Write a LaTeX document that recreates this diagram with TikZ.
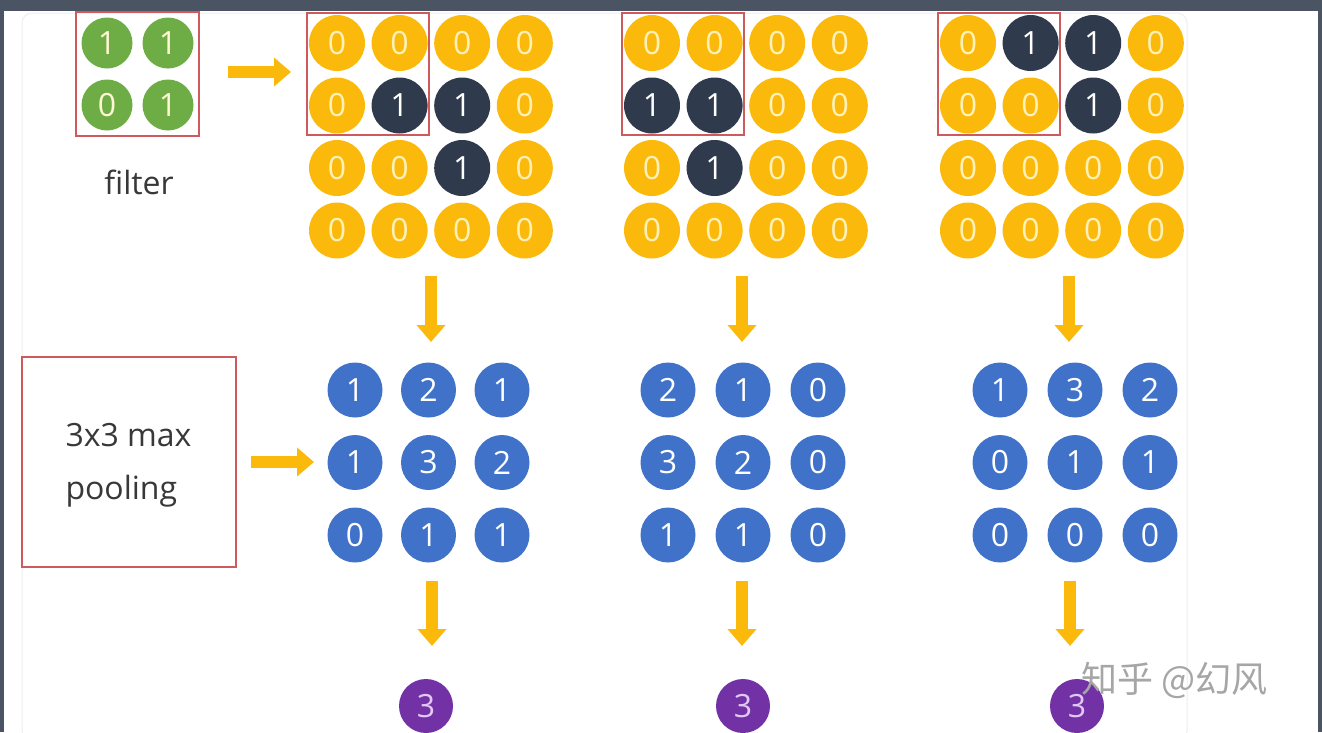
\documentclass[tikz,border=0pt]{standalone}
\usepackage{fontspec}
\setmainfont{Open Sans}
\newfontfamily\cjk{Noto Sans CJK SC}
\usetikzlibrary{arrows.meta,fit}
\definecolor{cyel}{HTML}{FBBA0B}
\definecolor{cyeltxt}{HTML}{FFF1B8}
\definecolor{cdark}{HTML}{2F3A4D}
\definecolor{cblue}{HTML}{3F72C8}
\definecolor{cgreen}{HTML}{6EAD45}
\definecolor{cpurple}{HTML}{7232A6}
\definecolor{cptxt}{HTML}{E2C8F5}
\definecolor{cred}{HTML}{CF5A5E}
\definecolor{cframe}{HTML}{4A5463}
\definecolor{cpanel}{HTML}{EEEEEE}
\tikzset{
  dot/.style={circle,inner sep=0pt,minimum size=#1,font=\fontsize{32}{32}\selectfont},
  cell0/.style={dot=56pt,fill=cyel,text=cyeltxt},
  cell1/.style={dot=56pt,fill=cdark,text=white},
  bdot/.style={dot=55pt,fill=cblue,text=white},
  gdot/.style={dot=51pt,fill=cgreen,text=cyeltxt!60!white},
  pdot/.style={dot=54pt,fill=cpurple,text=cptxt},
  redbox/.style={draw=cred,line width=1.8pt,inner sep=#1},
  yarrow/.style={draw=cyel,line width=12pt,-{Triangle[width=28pt,length=17pt]}},
  lbl/.style={font=\fontsize{32}{53}\selectfont,text=black!78},
}
\begin{document}
\begin{tikzpicture}[x=1pt,y=-1pt]
\useasboundingbox (0,0) rectangle (1322,732);
% screenshot frame
\fill[cframe] (0,0) rectangle (1322,732);
\fill[white] (4,11) rectangle (1318,732);
% panel
\draw[cpanel,line width=1pt,rounded corners=10pt] (22,13) -- (1187,13) -- (1187,740) -- (22,740) -- cycle;

% filter
\foreach \v [count=\i from 0] in {1,1,0,1}{
  \pgfmathtruncatemacro{\c}{mod(\i,2)}
  \pgfmathtruncatemacro{\r}{div(\i,2)}
  \node[gdot] (f-\r-\c) at ({107+61*\c},{43+62*\r}) {\v};
}
\node[redbox=5pt,fit=(f-0-0)(f-1-1)] (fbox) {};
\node[lbl] (ftext) at (139,182) {filter};

% input grids
\foreach \g/\xo/\vals in {1/337/{0,0,0,0,0,1,1,0,0,0,1,0,0,0,0,0},
                          2/652/{0,0,0,0,1,1,0,0,0,1,0,0,0,0,0,0},
                          3/968/{0,1,1,0,0,0,1,0,0,0,0,0,0,0,0,0}}{
  \foreach \v [count=\i from 0] in \vals{
    \pgfmathtruncatemacro{\c}{mod(\i,4)}
    \pgfmathtruncatemacro{\r}{div(\i,4)}
    \node[cell\v] (a\g-\r-\c) at ({\xo+62.6*\c},{43+62.5*\r}) {\v};
  }
  \node[redbox=1.5pt,fit=(a\g-0-0)(a\g-1-1)] (box\g) {};
}

% pooled grids
\foreach \g/\xo/\dx/\vals in {1/355/73.5/{1,2,1,1,3,2,0,1,1},
                              2/668/75/{2,1,0,3,2,0,1,1,0},
                              3/1000/75/{1,3,2,0,1,1,0,0,0}}{
  \foreach \v [count=\i from 0] in \vals{
    \pgfmathtruncatemacro{\c}{mod(\i,3)}
    \pgfmathtruncatemacro{\r}{div(\i,3)}
    \node[bdot] (b\g-\r-\c) at ({\xo+\dx*\c},{390+72.5*\r}) {\v};
  }
}

% results
\node[pdot] (p1) at (426,706) {3};
\node[pdot] (p2) at (743,706) {3};
\node[pdot] (p3) at (1077,706) {3};

% pooling box
\node[draw=cred,line width=1.8pt,minimum width=214pt,minimum height=210pt,inner sep=0pt] (pool) at (129,462) {};
\node[lbl,align=left,anchor=west] (pooltext) at (62,465) {3x3 max\\pooling};

% arrows
\coordinate (h1s) at (228,72);
\coordinate (h1e) at (291,72);
\draw[yarrow] (h1s) -- (h1e);
\coordinate (h2s) at (251,462);
\coordinate (h2e) at (314,462);
\draw[yarrow] (h2s) -- (h2e);
\foreach \x [count=\k] in {431,742,1069}{
  \coordinate (d\k s) at (\x,276);
  \coordinate (d\k e) at (\x,342);
  \draw[yarrow] (d\k s) -- (d\k e);
}
\foreach \x [count=\k] in {432,742,1070}{
  \coordinate (e\k s) at (\x,581);
  \coordinate (e\k e) at (\x,646);
  \draw[yarrow] (e\k s) -- (e\k e);
}

% watermark
\node[font=\cjk\fontsize{36}{36}\selectfont,text=black!35,anchor=west] (wm) at (1078,680) {知乎 @幻风};
\end{tikzpicture}
\end{document}
